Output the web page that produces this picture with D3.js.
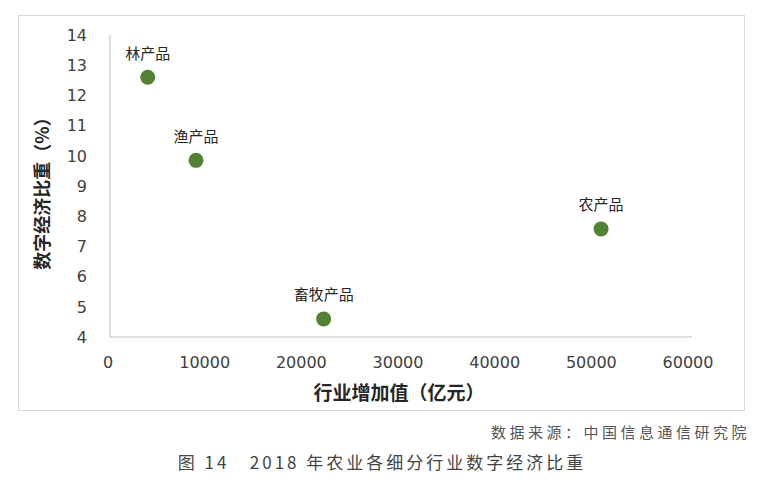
<!DOCTYPE html>
<html>
<head>
<meta charset="utf-8">
<script src="https://cdn.jsdelivr.net/npm/d3@7"></script>
<style>
  body { margin: 0; background: #fff; }
  svg { display: block; }
</style>
</head>
<body>
<div id="chart"></div>
<script>
const categories = ["林产品", "渔产品", "畜牧产品", "农产品"];
const addedValue = [3900, 8900, 22100, 50800];   // 行业增加值(亿元)
const digitalShare = [12.6, 9.85, 4.6, 7.58];    // 数字经济比重(%)
const xTicks = [0, 10000, 20000, 30000, 40000, 50000, 60000];
const yTicks = [4, 5, 6, 7, 8, 9, 10, 11, 12, 13, 14];

const width = 762, height = 485;
const svg = d3.select("#chart").append("svg")
    .attr("width", width)
    .attr("height", height);

// outer frame
svg.append("rect")
    .attr("x", 18.5).attr("y", 15.5)
    .attr("width", 726).attr("height", 395)
    .attr("fill", "#fff")
    .attr("stroke", "#d9d9d9");

const x = d3.scaleLinear().domain([0, 60000]).range([110, 690]);
const y = d3.scaleLinear().domain([4, 14]).range([337, 35]);

const font = "'Noto Sans CJK SC', 'Open Sans', sans-serif";
const numFont = "'DejaVu Sans', sans-serif";

// axis lines
svg.append("line")
    .attr("x1", x(0)).attr("x2", x(0))
    .attr("y1", y(14)).attr("y2", y(4))
    .attr("stroke", "#bfbfbf");
svg.append("line")
    .attr("x1", x(0)).attr("x2", x(60000) + 2)
    .attr("y1", y(4)).attr("y2", y(4))
    .attr("stroke", "#bfbfbf");

// tick labels
svg.append("g").selectAll("text")
    .data(yTicks)
    .join("text")
    .attr("x", 87)
    .attr("y", d => y(d))
    .attr("dy", "0.36em")
    .attr("text-anchor", "end")
    .attr("font-family", numFont)
    .attr("font-size", 16)
    .attr("fill", "#404040")
    .text(d => d);

svg.append("g").selectAll("text")
    .data(xTicks)
    .join("text")
    .attr("x", d => x(d) - 2)
    .attr("y", 362)
    .attr("dy", "0.36em")
    .attr("text-anchor", "middle")
    .attr("font-family", numFont)
    .attr("font-size", 16)
    .attr("fill", "#404040")
    .text(d => d);

// axis titles
svg.append("text")
    .attr("x", 399).attr("y", 393)
    .attr("dy", "0.36em")
    .attr("text-anchor", "middle")
    .attr("font-family", font)
    .attr("font-weight", "bold")
    .attr("font-size", 19)
    .attr("fill", "#262626")
    .text("行业增加值（亿元）");

svg.append("text")
    .attr("transform", "translate(43,189) rotate(-90)")
    .attr("dy", "0.36em")
    .attr("text-anchor", "middle")
    .attr("font-family", font)
    .attr("font-weight", "bold")
    .attr("font-size", 18)
    .attr("fill", "#262626")
    .text("数字经济比重（%）");

// points
const points = categories.map((c, i) => ({name: c, vx: addedValue[i], vy: digitalShare[i]}));

svg.append("g").selectAll("circle")
    .data(points)
    .join("circle")
    .attr("cx", d => x(d.vx))
    .attr("cy", d => y(d.vy))
    .attr("r", 7.5)
    .attr("fill", "#548235");

svg.append("g").selectAll("text")
    .data(points)
    .join("text")
    .attr("x", d => x(d.vx))
    .attr("y", d => y(d.vy) - 24)
    .attr("dy", "0.36em")
    .attr("text-anchor", "middle")
    .attr("font-family", font)
    .attr("font-size", 15)
    .attr("fill", "#262626")
    .text(d => d.name);

// source & caption
svg.append("text")
    .attr("x", 750).attr("y", 433)
    .attr("dy", "0.36em")
    .attr("text-anchor", "end")
    .attr("font-family", font)
    .attr("font-size", 15)
    .attr("letter-spacing", 3.5)
    .attr("fill", "#555")
    .text("数据来源：中国信息通信研究院");

svg.append("text")
    .attr("x", 382).attr("y", 463)
    .attr("dy", "0.36em")
    .attr("text-anchor", "middle")
    .attr("font-family", font)
    .attr("font-size", 17)
    .attr("letter-spacing", 3)
    .attr("fill", "#444")
    .attr("xml:space", "preserve")
    .text("图 14   2018 年农业各细分行业数字经济比重");
</script>
</body>
</html>
